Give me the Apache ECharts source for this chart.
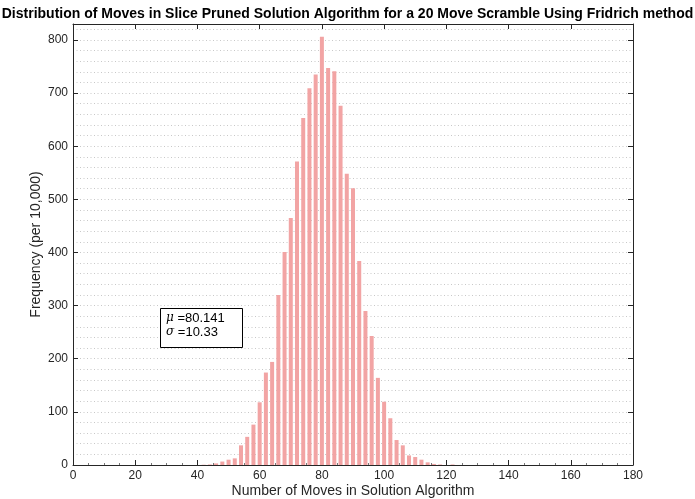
<!DOCTYPE html>
<html>
<head>
<meta charset="utf-8">
<script src="https://cdn.jsdelivr.net/npm/echarts@6/dist/echarts.min.js"></script>
<style>
html,body{margin:0;padding:0;background:#fff;}
#chart{width:695px;height:499px;}
</style>
</head>
<body>
<div id="chart"></div>
<script>
const moves = [42,44,46,48,50,52,54,56,58,60,62,64,66,68,70,72,74,76,78,80,82,84,86,88,90,92,94,96,98,100,102,104,106,108,110,112,114,116,118,122];
const freq  = [0.5,1,3,6.5,10,12.5,37,53,76,118,174,194,320,401,465,571,653,709,735,806,747,741,676,548,521,384,290,243,164,119,88,47,37,18,15,10,5,2,1,1];
const xTicks = [0,20,40,60,80,100,120,140,160,180];
const yTicks = [0,100,200,300,400,500,600,700,800];
const titleText = 'Distribution of Moves in Slice Pruned Solution Algorithm for a 20 Move Scramble Using Fridrich method';
const xName = 'Number of Moves in Solution Algorithm';
const yName = 'Frequency (per 10,000)';
const statsLines = ['{i|\u03bc} =80.141', '{i|\u03c3} =10.33'];

const FONT = '"Liberation Sans", Arial, Helvetica, sans-serif';
const chart = echarts.init(document.getElementById('chart'), null, {renderer:'canvas'});
const axisCol = '#262626';
const yMax = 830;

chart.setOption({
  animation:false,
  backgroundColor:'#fff',
  title:{
    text:titleText, left:'center', top:2,
    textStyle:{fontFamily:FONT, fontSize:14, fontWeight:'bold', color:'#000'}
  },
  grid:{left:73, right:62, top:24, bottom:34, containLabel:false, outerBoundsMode:'none'},
  xAxis:[{
    type:'value', min:0, max:180, interval:20, position:'bottom',
    name:xName, nameLocation:'middle', nameGap:19, nameMoveOverlap:false,
    nameTextStyle:{fontFamily:FONT, fontSize:14, color:axisCol},
    axisLine:{show:true, onZero:false, lineStyle:{color:axisCol, width:1}},
    axisTick:{show:true, inside:true, length:5, lineStyle:{color:axisCol}},
    minorTick:{show:true, splitNumber:4, length:2, lineStyle:{color:'#777'}},
    axisLabel:{fontFamily:FONT, fontSize:12, color:axisCol, margin:5,
      formatter:v=>xTicks.includes(v)?String(v):''},
    splitLine:{show:false}
  },{
    type:'value', min:0, max:180, interval:20, position:'top',
    axisLine:{show:true, onZero:false, lineStyle:{color:axisCol, width:1}},
    axisTick:{show:true, inside:true, length:5, lineStyle:{color:axisCol}},
    axisLabel:{show:false}, splitLine:{show:false}
  }],
  yAxis:[{
    type:'value', min:0, max:yMax, interval:100, position:'left',
    name:yName, nameLocation:'middle', nameGap:30, nameRotate:90, nameMoveOverlap:false,
    nameTextStyle:{fontFamily:FONT, fontSize:14, color:axisCol},
    axisLine:{show:true, onZero:false, lineStyle:{color:axisCol, width:1}},
    axisTick:{show:true, inside:true, length:5, lineStyle:{color:axisCol}},
    axisLabel:{fontFamily:FONT, fontSize:12, color:axisCol, margin:5, showMaxLabel:false,
      formatter:v=>yTicks.includes(v)?String(v):''},
    splitLine:{show:false}
  },{
    type:'value', min:0, max:yMax, interval:100, position:'right',
    axisLine:{show:true, onZero:false, lineStyle:{color:axisCol, width:1}},
    axisTick:{show:true, inside:true, length:5, lineStyle:{color:axisCol}},
    axisLabel:{show:false}, splitLine:{show:false}
  },{
    type:'value', min:0, max:yMax, interval:20, show:true, position:'left',
    axisLine:{show:false}, axisTick:{show:false}, axisLabel:{show:false},
    splitLine:{show:true, lineStyle:{color:'#c8c8c8', width:1, type:[1,2.5]}}
  }],
  series:[{
    type:'bar', xAxisIndex:0, yAxisIndex:0,
    data:moves.map((m,i)=>[m,freq[i]]),
    barWidth:4,
    itemStyle:{color:'#f2a4a4'},
    z:3
  }],
  graphic:[{
    type:'rect', left:160, top:308, z:10,
    shape:{width:82, height:39},
    style:{fill:'#fff', stroke:'#000', lineWidth:1}
  },{
    type:'text', left:166, top:311, z:11,
    style:{
      text:statsLines.join('\n'),
      font:'13px ' + FONT,
      fill:'#000',
      lineHeight:14,
      rich:{i:{fontStyle:'italic', fontFamily:'"DejaVu Serif", "Liberation Serif", serif', fontSize:12}}
    }
  }]
});
</script>
</body>
</html>
